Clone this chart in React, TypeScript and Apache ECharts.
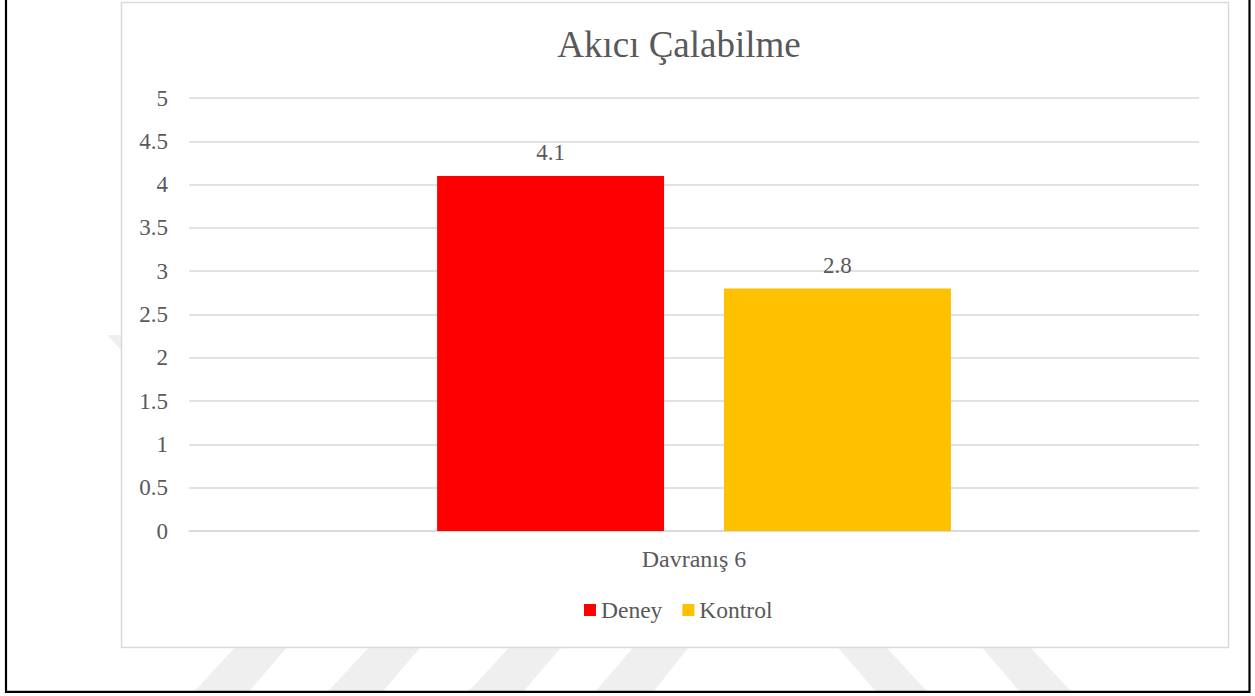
import React, { useEffect, useRef } from "react";
import * as echarts from "echarts";

const categories = ["Davranış 6"];
const seriesNames = ["Deney", "Kontrol"];
const deneyValues = [4.1];
const kontrolValues = [2.8];
const seriesColors = ["#ff0000", "#ffc000"];
const titleText = "Akıcı Çalabilme";

const FONT = "Liberation Serif";
const TXT = "#595959";

const stripes: number[][][] = [
  [[241.7, 640], [293.2, 640], [248.6, 692], [193.7, 692]],
  [[375.5, 640], [426.9, 640], [382.3, 692], [327.5, 692]],
  [[516, 640], [567.5, 640], [523, 692], [468, 692]],
  [[639.5, 640], [694.4, 640], [653, 692], [595, 692]],
  [[831.6, 640], [879.6, 640], [927.6, 692], [876, 692]],
  [[975.6, 640], [1023.6, 640], [1071.6, 692], [1020, 692]],
  [[107, 335], [122, 335], [122, 351]],
];

export default function App() {
  const ref = useRef<HTMLDivElement>(null);
  useEffect(() => {
    if (!ref.current) return;
    const chart = echarts.init(ref.current, undefined, { renderer: "svg" });
    const graphics: any[] = stripes.map((pts) => ({
      type: "polygon",
      z: -20,
      silent: true,
      shape: { points: pts },
      style: { fill: "#efefef" },
    }));
    graphics.push({
      type: "rect",
      z: -10,
      silent: true,
      shape: { x: 121.5, y: 2.5, width: 1107, height: 645 },
      style: { fill: "#ffffff", stroke: "#d9d9d9", lineWidth: 1.5 },
    });
    graphics.push({
      type: "polyline",
      z: 50,
      silent: true,
      shape: { points: [[6, 0], [6, 691.8], [1249.5, 691.8], [1249.5, 0]] },
      style: { stroke: "#000000", lineWidth: 2.2, fill: null },
    });
    chart.setOption({
      animation: false,
      backgroundColor: "#ffffff",
      title: {
        text: titleText,
        left: 674,
        top: 21,
        textAlign: "center",
        textStyle: { fontFamily: FONT, fontSize: 37, fontWeight: "normal", color: TXT },
      },
      graphic: graphics,
      legend: {
        data: seriesNames,
        left: 584,
        top: 598,
        itemWidth: 12,
        itemHeight: 12,
        itemGap: 20,
        icon: "rect",
        textStyle: { fontFamily: FONT, fontSize: 23.5, color: TXT },
        padding: 0,
      },
      grid: { left: 189, right: 56, top: 98, bottom: 165 },
      xAxis: {
        type: "category",
        data: categories,
        axisLine: { lineStyle: { color: "#d9d9d9", width: 1.5 } },
        axisTick: { show: false },
        axisLabel: { fontFamily: FONT, fontSize: 24, color: TXT, margin: 16 },
      },
      yAxis: {
        type: "value",
        min: 0,
        max: 5,
        interval: 0.5,
        axisLine: { show: false },
        axisTick: { show: false },
        splitLine: { lineStyle: { color: "#d9d9d9", width: 1.5 } },
        axisLabel: { fontFamily: FONT, fontSize: 23, color: TXT, margin: 21 },
      },
      series: [
        {
          name: seriesNames[0],
          type: "bar",
          data: deneyValues,
          barWidth: "22.47%",
          barGap: "26.4%",
          itemStyle: { color: seriesColors[0] },
          label: {
            show: true,
            position: "top",
            distance: 12,
            fontFamily: FONT,
            fontSize: 23,
            color: TXT,
          },
        },
        {
          name: seriesNames[1],
          type: "bar",
          data: kontrolValues,
          barWidth: "22.47%",
          barGap: "26.4%",
          itemStyle: { color: seriesColors[1] },
          label: {
            show: true,
            position: "top",
            distance: 12,
            fontFamily: FONT,
            fontSize: 23,
            color: TXT,
          },
        },
      ],
    });
    return () => chart.dispose();
  }, []);
  return (
    <div
      ref={ref}
      style={{ position: "fixed", left: 0, top: 0, width: 1255, height: 696 }}
    />
  );
}
